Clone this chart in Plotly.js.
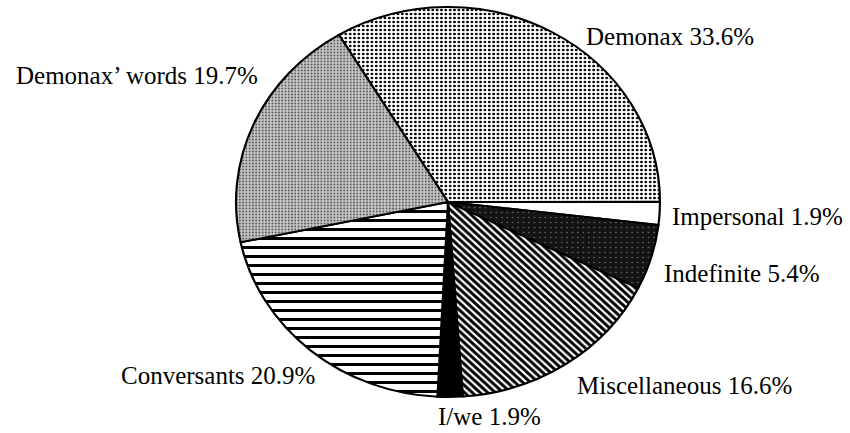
<!DOCTYPE html>
<html>
<head>
<meta charset="utf-8">
<script src="https://cdn.plot.ly/plotly-3.0.1.min.js"></script>
<style>
  html, body { margin: 0; padding: 0; background: #ffffff; }
  #wrap { position: relative; width: 850px; height: 433px; overflow: hidden; }
  #pie, #labels { position: absolute; left: 0; top: 0; width: 850px; height: 433px; }
  #pie { transform: scaleX(1.087); transform-origin: 448px 202px; }
  #labels { pointer-events: none; }
</style>
</head>
<body>
<div id="wrap">
  <div id="pie"></div>
  <div id="labels"></div>
</div>
<script>
// ---- data ----
const categories = ['Demonax', 'Impersonal', 'Indefinite', 'Miscellaneous', 'I/we', 'Conversants', 'Demonax\u2019 words'];
const shares = [33.6, 1.9, 5.4, 16.6, 1.9, 20.9, 19.7];
const labelText = categories.map((c, i) => c + ' ' + shares[i].toFixed(1) + '%');

// ---- styling ----
const sliceBg     = ['#ffffff', '#ffffff', '#141414', '#ffffff', '#000000', '#ffffff', '#c8c8c8'];
const patShape    = ['.',       '',        '.',       '\\',      '',        '-',       '.'];
const patFg       = ['#000000', '#000000', '#6a6a6a', '#000000', '#000000', '#000000', '#5a5a5a'];
const patSize     = [4,         8,         5,         5,         8,         9,         3];
const patSolidity = [0.33,      0.3,       0.08,      0.58,      0.3,       0.34,      0.3];

const W = 850, H = 433;
const cx = 448, cy = 202, r = 195;

const pieTrace = {
  type: 'pie',
  labels: categories,
  values: shares,
  sort: false,
  direction: 'clockwise',
  rotation: -31,
  textinfo: 'none',
  hoverinfo: 'skip',
  showlegend: false,
  domain: {
    x: [cx / W - 0.26, cx / W + 0.26],
    y: [1 - (cy + r) / H, 1 - (cy - r) / H]
  },
  marker: {
    colors: sliceBg,
    line: { color: '#000000', width: 2 },
    pattern: {
      shape: patShape,
      fgcolor: patFg,
      bgcolor: sliceBg,
      size: patSize,
      solidity: patSolidity,
      fillmode: 'replace'
    }
  }
};

Plotly.newPlot('pie', [pieTrace], {
  width: W, height: H,
  margin: { l: 0, r: 0, t: 0, b: 0 },
  paper_bgcolor: '#ffffff',
  showlegend: false
}, { staticPlot: true, displayModeBar: false });

// label positions (pixel centres of the text in the reference)
const labelPos = [
  [670, 36.5],
  [757, 216.5],
  [742, 273.5],
  [684, 385],
  [490, 416.5],
  [218, 375.5],
  [137, 75.5]
];

const annotations = labelText.map((t, i) => ({
  text: t,
  xref: 'paper', yref: 'paper',
  x: labelPos[i][0] / W,
  y: 1 - labelPos[i][1] / H,
  xanchor: 'center', yanchor: 'middle',
  showarrow: false,
  font: { family: '"Liberation Serif", "Times New Roman", serif', size: 25, color: '#000000' }
}));

Plotly.newPlot('labels', [], {
  width: W, height: H,
  margin: { l: 0, r: 0, t: 0, b: 0 },
  paper_bgcolor: 'rgba(0,0,0,0)',
  plot_bgcolor: 'rgba(0,0,0,0)',
  xaxis: { visible: false },
  yaxis: { visible: false },
  showlegend: false,
  annotations: annotations
}, { staticPlot: true, displayModeBar: false });
</script>
</body>
</html>
